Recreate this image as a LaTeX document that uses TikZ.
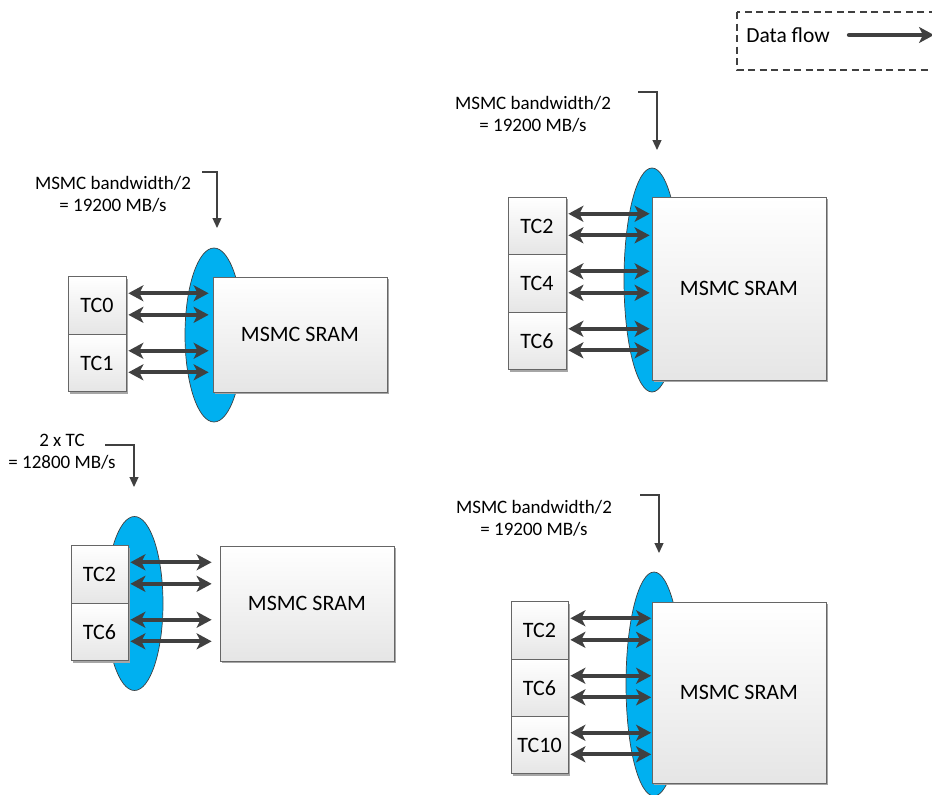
\documentclass[tikz,border=0pt]{standalone}
\usepackage{fontspec}
\setmainfont{Carlito}
\usetikzlibrary{arrows.meta,shadows,calc,shapes.geometric}
\definecolor{dgray}{HTML}{404040}
\definecolor{ellblue}{HTML}{00B0F0}
\newcommand\dpair[3]{%
  \foreach \f in {0.29,0.66}{%
    \coordinate (p) at ($(#1.north east)!\f!(#1.south east)$);
    \draw[dflow, shorten <=2pt, shorten >=#3] (p) -- (p -| #2.west);
  }}
\begin{document}
\begin{tikzpicture}[x=1pt,y=-1pt,
  box/.style={draw=black!60, line width=0.75pt, top color=white, bottom color=black!10,
    drop shadow={shadow xshift=1.8pt, shadow yshift=-1.8pt, fill=black!35, opacity=1},
    inner sep=0pt, font=\fontsize{22}{26}\selectfont},
  tcbox/.style={box, minimum width=#1, minimum height=57.5pt},
  srambox/.style={box, minimum width=174pt, minimum height=#1},
  ell/.style={ellipse, draw=dgray, line width=0.7pt, fill=ellblue, inner sep=0pt},
  dflow/.style={draw=dgray, line width=4.2pt, >={Stealth[length=15pt,width=16pt,inset=4pt]}, <->},
  note/.style={align=center, font=\fontsize{19}{22}\selectfont, inner sep=0pt},
  noteline/.style={draw=dgray, line width=1.2pt, -{Triangle[length=10pt,width=9pt]}}
]
\useasboundingbox (0,0) rectangle (932,795);

% ---------------- legend
\draw[dgray, line width=1.8pt, dash pattern=on 7pt off 4.5pt] (737,12) rectangle (945,70);
\node[inner sep=0pt, font=\fontsize{21.5}{24}\selectfont] (lg) at (788,35) {Data flow};
\coordinate (lgend) at (934,35);
\draw[dflow, ->, line cap=round, shorten <=19pt] (lg.east) -- (lgend);

% ---------------- panel 1 (top left)
\node[ell, minimum width=58pt, minimum height=174pt] (e1) at (214,335) {};
\node[tcbox=58pt] (a0) at (97,305.5) {TC0};
\node[tcbox=58pt] (a1) at (97,363) {TC1};
\node[srambox=115pt] (s1) at (300,334.5) {MSMC SRAM};
\dpair{a0}{s1}{4pt}
\dpair{a1}{s1}{4pt}
\node[note] (n1) at (113,194) {MSMC bandwidth/2\\= 19200 MB/s};
\coordinate (n1s) at (202,172);
\coordinate (n1e) at (217,228);
\draw[noteline] (n1s) -| (n1e);

% ---------------- panel 3 (bottom left)
\node[ell, minimum width=57pt, minimum height=174pt] (e3) at (134.5,603.5) {};
\node[tcbox=57pt] (c2) at (99.5,574.5) {TC2};
\node[tcbox=57pt] (c6) at (99.5,632) {TC6};
\node[srambox=115pt] (s3) at (307,603.5) {MSMC SRAM};
\dpair{c2}{s3}{8pt}
\dpair{c6}{s3}{8pt}
\node[note] (n3) at (62,452) {2 x TC\\= 12800 MB/s};
\coordinate (n3s) at (105,445);
\coordinate (n3e) at (134,487);
\draw[noteline] (n3s) -| (n3e);

% ---------------- panel 2 (top right)
\node[ell, minimum width=56pt, minimum height=224pt] (e2) at (652,280) {};
\node[tcbox=58pt] (b2) at (537,226) {TC2};
\node[tcbox=58pt] (b4) at (537,283.5) {TC4};
\node[tcbox=58pt] (b6) at (537,341) {TC6};
\node[srambox=183pt] (s2) at (739,288.5) {MSMC SRAM};
\dpair{b2}{s2}{2pt}
\dpair{b4}{s2}{2pt}
\dpair{b6}{s2}{2pt}
\node[note] (n2) at (533,114.5) {MSMC bandwidth/2\\= 19200 MB/s};
\coordinate (n2s) at (638,92);
\coordinate (n2e) at (657,150);
\draw[noteline] (n2s) -| (n2e);

% ---------------- panel 4 (bottom right)
\node[ell, minimum width=56pt, minimum height=224pt] (e4) at (654,684) {};
\node[tcbox=57pt] (d2) at (539.5,630.5) {TC2};
\node[tcbox=57pt] (d6) at (539.5,688) {TC6};
\node[tcbox=57pt] (d10) at (539.5,745) {TC10};
\node[srambox=181pt] (s4) at (739,692.5) {MSMC SRAM};
\dpair{d2}{s4}{0.5pt}
\dpair{d6}{s4}{0.5pt}
\dpair{d10}{s4}{0.5pt}
\node[note] (n4) at (534,518) {MSMC bandwidth/2\\= 19200 MB/s};
\coordinate (n4s) at (640,495);
\coordinate (n4e) at (659,553);
\draw[noteline] (n4s) -| (n4e);
\end{tikzpicture}
\end{document}
